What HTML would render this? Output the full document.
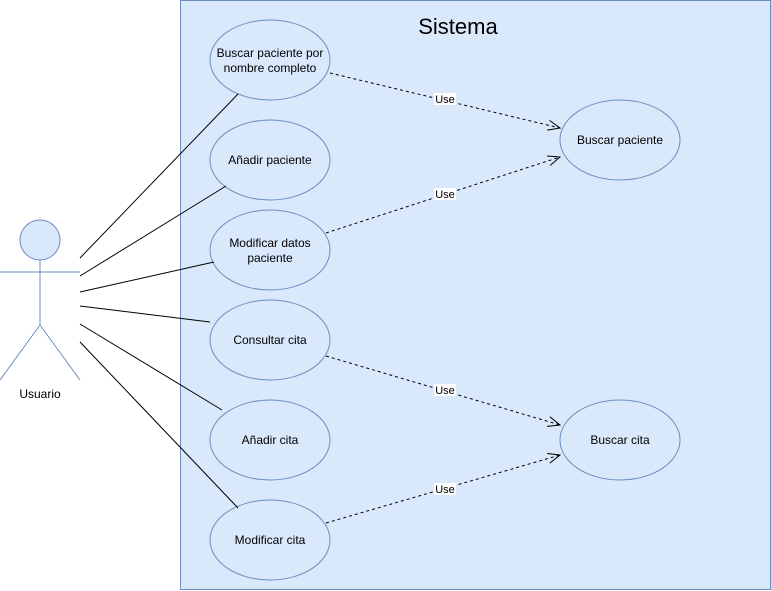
<!DOCTYPE html>
<html><head><meta charset="utf-8"><style>
html,body{margin:0;padding:0;background:#fff;width:771px;height:591px;overflow:hidden}
text{font-family:"Liberation Sans",Arial,sans-serif}
</style></head><body>
<svg width="771" height="591" viewBox="0 0 771 591" xmlns="http://www.w3.org/2000/svg">
<defs>
<marker id="a" markerWidth="14" markerHeight="12" refX="13" refY="6" orient="auto" markerUnits="userSpaceOnUse">
<path d="M1,1 L13,6 L1,11" fill="none" stroke="#000" stroke-width="1"/>
</marker>
</defs>
<rect x="180.5" y="0.5" width="590" height="589" fill="#dae8fc" stroke="#6c8ebf"/>
<text x="458" y="34" font-size="22" text-anchor="middle">Sistema</text>
<g fill="#dae8fc" stroke="#6c8ebf">
<ellipse cx="270" cy="60" rx="60" ry="40"/>
<ellipse cx="270" cy="160" rx="60" ry="40"/>
<ellipse cx="270" cy="250" rx="60" ry="40"/>
<ellipse cx="270" cy="340" rx="60" ry="40"/>
<ellipse cx="270" cy="440" rx="60" ry="40"/>
<ellipse cx="270" cy="540" rx="60" ry="40"/>
<ellipse cx="620" cy="140" rx="60" ry="40"/>
<ellipse cx="620" cy="440" rx="60" ry="40"/>
<circle cx="40" cy="240" r="20"/>
<path d="M40,260 V325 M0,272 H80 M40,325 L0,380 M40,325 L80,380" fill="none"/>
</g>
<g stroke="#000" fill="none">
<path d="M80,258 L238,94 M80,276 L226,186 M80,292 L214,262 M80,306 L210,322 M80,324 L222,410 M80,342 L238,508"/>
<g stroke-dasharray="3,3" marker-end="url(#a)">
<path d="M330,73 L560,128"/>
<path d="M326,233 L560,157"/>
<path d="M326,356 L560,425"/>
<path d="M326,523 L560,455"/>
</g>
</g>
<g font-size="11" text-anchor="middle">
<rect x="434" y="93" width="22" height="12" fill="#fff"/><text x="445" y="103">Use</text>
<rect x="434" y="188" width="22" height="12" fill="#fff"/><text x="445" y="198">Use</text>
<rect x="434" y="384" width="22" height="12" fill="#fff"/><text x="445" y="394">Use</text>
<rect x="434" y="483" width="22" height="12" fill="#fff"/><text x="445" y="493">Use</text>
</g>
<g font-size="12" text-anchor="middle">
<text x="270" y="57">Buscar paciente por</text>
<text x="270" y="72">nombre completo</text>
<text x="270" y="164">Añadir paciente</text>
<text x="270" y="247">Modificar datos</text>
<text x="270" y="262">paciente</text>
<text x="270" y="344">Consultar cita</text>
<text x="270" y="444">Añadir cita</text>
<text x="270" y="544">Modificar cita</text>
<text x="620" y="144">Buscar paciente</text>
<text x="620" y="444">Buscar cita</text>
<text x="40" y="398">Usuario</text>
</g>
</svg>
</body></html>
